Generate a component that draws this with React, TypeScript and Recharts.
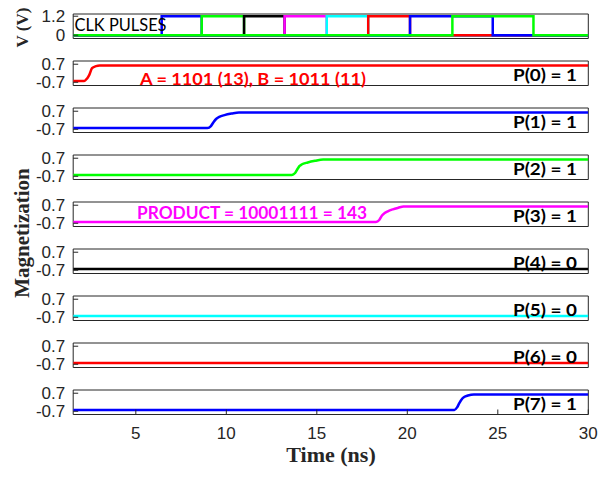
import { LineChart, Line, XAxis, YAxis, ReferenceArea } from "recharts";

// ─── Data ────────────────────────────────────────────────────────────────────
const T_MIN = 1.54;
const T_MAX = 30;
const timeTicks = [5, 10, 15, 20, 25, 30];

// clock pulses (V): one phase per colour, rise / fall times in ns
const clkTicks = [0, 1.2];
const clkHigh = 1.2;
const clkLow = 0;
const clkRise = [6.43, 8.64, 10.98, 13.22, 15.55, 17.84, 20.15, 22.49];
const clkFall = [8.64, 10.98, 13.22, 15.55, 17.84, 20.15, 24.72, 26.97];
const clkColors = ["#0000ff", "#00ff00", "#000000", "#ff00ff", "#00ffff", "#ff0000", "#0000ff", "#00ff00"];

// magnetization of each product bit
const magTicks = [-0.7, 0.7];
const p0Time = [T_MIN, 2.15, 2.3, 2.43, 2.58, 2.8, 3.0, T_MAX];
const p0Mag = [-0.6, -0.6, -0.42, -0.13, 0.39, 0.55, 0.6, 0.6];
const p1Time = [T_MIN, 8.96, 9.15, 9.3, 9.45, 9.61, 9.9, 10.3, 10.7, T_MAX];
const p1Mag = [-0.6, -0.6, -0.45, -0.13, 0.12, 0.26, 0.4, 0.52, 0.6, 0.6];
const p2Time = [T_MIN, 13.62, 13.8, 13.95, 14.05, 14.16, 14.5, 14.9, 15.35, T_MAX];
const p2Mag = [-0.6, -0.6, -0.45, -0.1, 0.1, 0.21, 0.37, 0.5, 0.6, 0.6];
const p3Time = [T_MIN, 18.27, 18.45, 18.6, 18.75, 18.92, 19.2, 19.5, 19.79, T_MAX];
const p3Mag = [-0.6, -0.6, -0.45, -0.1, 0.1, 0.23, 0.38, 0.5, 0.6, 0.6];
const p4Time = [T_MIN, T_MAX];
const p4Mag = [-0.6, -0.6];
const p5Time = [T_MIN, T_MAX];
const p5Mag = [-0.6, -0.6];
const p6Time = [T_MIN, T_MAX];
const p6Mag = [-0.6, -0.6];
const p7Time = [T_MIN, 22.6, 22.75, 22.88, 23.0, 23.14, 23.35, 23.68, T_MAX];
const p7Mag = [-0.6, -0.6, -0.4, -0.05, 0.22, 0.4, 0.52, 0.6, 0.6];

const bitTimes = [p0Time, p1Time, p2Time, p3Time, p4Time, p5Time, p6Time, p7Time];
const bitMags = [p0Mag, p1Mag, p2Mag, p3Mag, p4Mag, p5Mag, p6Mag, p7Mag];
const bitColors = ["#ff0000", "#0000ff", "#00ff00", "#ff00ff", "#000000", "#00ffff", "#ff0000", "#0000ff"];
const bitLabels = ["P(0) = 1", "P(1) = 1", "P(2) = 1", "P(3) = 1", "P(4) = 0", "P(5) = 0", "P(6) = 0", "P(7) = 1"];

const inputLabel = "A = 1101 (13), B = 1011 (11)";
const productLabel = "PRODUCT = 10001111 = 143";

// ─── Layout ──────────────────────────────────────────────────────────────────
const W = 614;
const H = 478;
const PLOT_L = 73.2;
const PLOT_R = 588.3;
const PAD = 10;
const PANEL_H = 24.5;
const CLK_TOP = 13.8;
const BIT_TOP = 60.8;
const BIT_STEP = 47;
const TICK_LEN = 5;
const TICK_GAP = 8;
const X_LABEL_GAP = 12;
const FRAME = "#262626";
const CALIBRI = "Lato, 'Open Sans', sans-serif";
const SERIF = "'Liberation Serif', 'Times New Roman', serif";
const tickFont = { fontSize: 17, fill: "#262626", fontFamily: "'Liberation Sans', Arial, sans-serif" };

interface Pt { t: number; v: number }
interface Series { color: string; data: Pt[] }

const clkSeries: Series[] = clkRise.map((r, i) => ({
  color: clkColors[i],
  data: [
    { t: T_MIN, v: clkLow }, { t: r, v: clkLow }, { t: r, v: clkHigh },
    { t: clkFall[i], v: clkHigh }, { t: clkFall[i], v: clkLow }, { t: T_MAX, v: clkLow },
  ],
}));

const bitSeries: Series[] = bitTimes.map((ts, i) => ({
  color: bitColors[i],
  data: ts.map((t, j) => ({ t, v: bitMags[i][j] })),
}));

// ─── Inward (MATLAB style) ticks ─────────────────────────────────────────────
type TickProps = { x: number; y: number; payload: { value: number } };

function LeftTick({ x, y, payload }: TickProps) {
  return (
    <g>
      <line x1={x + TICK_GAP} x2={x + TICK_GAP + TICK_LEN} y1={y} y2={y} stroke={FRAME} />
      <text x={x} y={y} dy="0.36em" textAnchor="end" {...tickFont}>{String(payload.value)}</text>
    </g>
  );
}

function RightTick({ x, y }: TickProps) {
  return <line x1={x - TICK_LEN} x2={x} y1={y} y2={y} stroke={FRAME} />;
}

function BottomTick({ x, y, payload }: TickProps) {
  return (
    <g>
      <line x1={x} x2={x} y1={y - X_LABEL_GAP} y2={y - X_LABEL_GAP - TICK_LEN} stroke={FRAME} />
      <text x={x} y={y} dy="0.72em" textAnchor="middle" {...tickFont}>{String(payload.value)}</text>
    </g>
  );
}

function TopTick({ x, y }: TickProps) {
  return <line x1={x} x2={x} y1={y} y2={y + TICK_LEN} stroke={FRAME} />;
}

// ─── One framed sub-plot ─────────────────────────────────────────────────────
function Panel({ top, domain, yTicks, series, curve, last }: {
  top: number; domain: [number, number]; yTicks: number[]; series: Series[];
  curve: "linear" | "monotone"; last?: boolean;
}) {
  const xAxisH = last ? 34 : 0;
  return (
    <div style={{ position: "absolute", left: 0, top: top - PAD }}>
      <LineChart
        width={W}
        height={PAD + PANEL_H + xAxisH + (last ? 0 : PAD)}
        margin={{ top: PAD, right: W - PLOT_R, bottom: last ? 0 : PAD, left: 0 }}
      >
        <XAxis
          dataKey="t" type="number" domain={[T_MIN, T_MAX]} allowDataOverflow
          ticks={last ? timeTicks : []} interval={0} height={xAxisH}
          axisLine={false} tickLine={false} tickSize={0} tickMargin={X_LABEL_GAP}
          tick={last ? (p: TickProps) => <BottomTick {...p} /> : false}
        />
        <XAxis
          xAxisId="top" orientation="top" dataKey="t" type="number" domain={[T_MIN, T_MAX]} allowDataOverflow
          ticks={last ? timeTicks : []} interval={0} height={0}
          axisLine={false} tickLine={false} tickSize={0} tickMargin={0}
          tick={last ? (p: TickProps) => <TopTick {...p} /> : false}
        />
        <YAxis
          type="number" domain={domain} allowDataOverflow ticks={yTicks} interval={0} width={PLOT_L}
          axisLine={false} tickLine={false} tickSize={0} tickMargin={TICK_GAP}
          tick={(p: TickProps) => <LeftTick {...p} />}
        />
        <YAxis
          yAxisId="r" orientation="right" type="number" domain={domain} allowDataOverflow
          ticks={yTicks} interval={0} width={0}
          axisLine={false} tickLine={false} tickSize={0} tickMargin={0}
          tick={(p: TickProps) => <RightTick {...p} />}
        />
        <ReferenceArea
          x1={T_MIN} x2={T_MAX} y1={domain[0]} y2={domain[1]}
          fill="none" fillOpacity={0} stroke={FRAME} strokeWidth={1} strokeOpacity={1} ifOverflow="visible"
        />
        {series.map((s, i) => (
          <Line
            key={i} data={s.data} dataKey="v" type={curve} stroke={s.color} strokeWidth={2.5}
            dot={false} activeDot={false} isAnimationActive={false}
          />
        ))}
      </LineChart>
    </div>
  );
}

export default function App() {
  return (
    <div style={{ position: "absolute", left: 0, top: 0, width: W, height: H, background: "#fff" }}>
      <Panel top={CLK_TOP} domain={[-0.21, 1.34]} yTicks={clkTicks} series={clkSeries} curve="linear" />
      {bitSeries.map((s, i) => (
        <Panel
          key={i} top={BIT_TOP + BIT_STEP * i} domain={[-0.95, 0.95]} yTicks={magTicks}
          series={[s]} curve="monotone" last={i === bitSeries.length - 1}
        />
      ))}
      <svg width={W} height={H} style={{ position: "absolute", left: 0, top: 0, pointerEvents: "none" }}>
        <text x={74.5} y={31} fontFamily={CALIBRI} fontSize={18} fill="#000" textLength={92} lengthAdjust="spacingAndGlyphs">
          CLK PULSES
        </text>
        <text x={140} y={84.5} fontFamily={CALIBRI} fontWeight="bold" fontSize={17} fill="#ff0000" textLength={226} lengthAdjust="spacingAndGlyphs">
          {inputLabel}
        </text>
        <text x={137} y={219} fontFamily={CALIBRI} fontWeight="bold" fontSize={16.5} fill="#ff00ff" textLength={230} lengthAdjust="spacingAndGlyphs">
          {productLabel}
        </text>
        {bitLabels.map((b, i) => (
          <text
            key={i} x={513} y={BIT_TOP + BIT_STEP * i + PANEL_H - 4} fontFamily={CALIBRI} fontWeight="bold"
            fontSize={17} fill="#000" textLength={64} lengthAdjust="spacingAndGlyphs"
          >
            {b}
          </text>
        ))}
        <text transform="translate(28,27.5) rotate(-90)" textAnchor="middle" fontFamily={SERIF} fontWeight="bold" fontSize={17} fill={FRAME}>
          V (V)
        </text>
        <text transform="translate(29,233) rotate(-90)" textAnchor="middle" fontFamily={SERIF} fontWeight="bold" fontSize={21} fill={FRAME}>
          Magnetization
        </text>
        <text x={331} y={462} textAnchor="middle" fontFamily={SERIF} fontWeight="bold" fontSize={22} fill={FRAME}>
          Time (ns)
        </text>
      </svg>
    </div>
  );
}
